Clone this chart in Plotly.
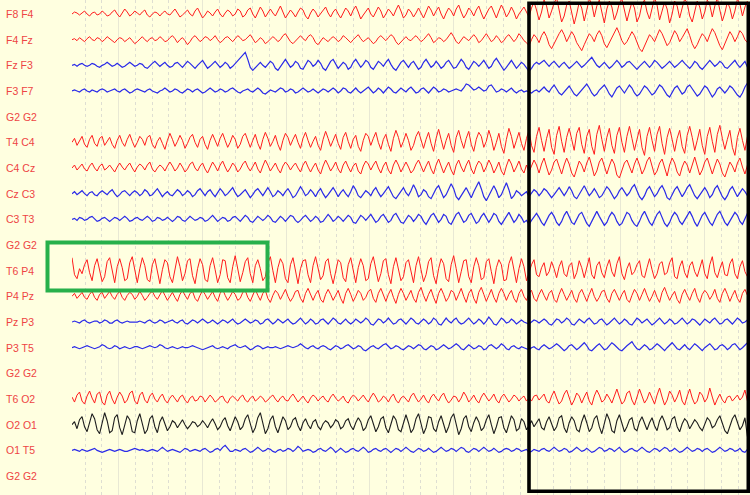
import plotly.graph_objects as go

# ---------------- data ----------------
channels = ["F8 F4", "F4 Fz", "Fz F3", "F3 F7", "G2 G2",
            "T4 C4", "C4 Cz", "Cz C3", "C3 T3", "G2 G2",
            "T6 P4", "P4 Pz", "Pz P3", "P3 T5", "G2 G2",
            "T6 O2", "O2 O1", "O1 T5", "G2 G2"]
channel_colors = ["red", "red", "blue", "blue", None,
                  "red", "red", "blue", "blue", None,
                  "red", "red", "blue", "blue", None,
                  "red", "black", "blue", None]

t_start = 0.442     # seconds
dt = 0.03           # seconds per sample

f8_f4 = [0,2,1,-1,1,3,0,-2,1,2,-1,0,3,1,-2,-1,2,4,0,-3,1,5,2,-2,0,3,1,-1,2,4,-1,-3,0,2,1,-2,1,3,0,-1,
         2,5,1,-3,-1,2,4,0,-2,3,6,1,-4,-1,3,1,-2,2,5,0,
         -3,1,4,2,-2,0,5,3,-3,-1,4,6,0,-4,2,7,3,-3,1,5,
         1,-2,3,8,2,-4,0,4,1,-3,2,6,4,-2,-5,1,5,2,-3,0,
         4,7,1,-3,2,5,0,-4,1,6,3,-2,4,8,2,-5,-1,3,6,0,
         -3,2,7,3,-4,0,5,2,-2,4,9,3,-4,-1,5,2,-3,1,6,1,
         -4,2,8,4,-2,3,7,0,-5,1,6,3,-2,5,9,2,-4,0,6,3,
         -2,4,8,1,-5,0,5,8,2,-4,3,9,4,-3,1,7,2,-5,0,4,
         7,2,
         -3,6,12,4,-6,2,14,8,-4,3,11,16,5,-8,-2,9,13,3,-10,0,
         12,6,-7,4,15,10,-3,8,14,2,-9,5,13,7,-6,1,11,15,4,-7,
         3,12,6,-8,-2,10,14,2,-5,7,16,9,-6,3,12,5,-9,0,13,8,
         -4,6,15,11,-2,-8,4,13,7,-5,2,14,9,-3,8,16,4,-7,1,12,
         6,-5,3,15,10,-2,7,13]

f4_fz = [0,1,-1,2,0,-2,1,3,0,-1,2,1,-2,0,3,1,-1,-3,0,2,
         1,-2,0,2,-1,-4,-2,1,3,0,-2,1,2,-1,0,3,1,-2,-1,2,
         4,1,-3,0,2,-1,-5,-2,2,4,1,-2,0,3,2,-1,1,4,0,-3,
         -1,2,3,0,-2,1,4,2,-1,0,3,5,1,-3,-1,2,0,-4,-2,1,
         3,1,-2,0,4,6,2,-2,-4,-1,2,4,1,-1,3,5,2,-3,-5,-1,
         2,0,-2,1,3,1,-2,0,4,2,-1,-3,0,3,5,1,-2,0,2,-1,
         -4,-2,2,4,1,-1,2,5,3,-2,-5,-2,1,3,0,-1,2,4,1,-2,
         0,3,6,2,-3,-1,2,1,-2,0,4,7,3,-2,-4,0,3,1,-1,2,
         5,2,-3,-1,3,6,2,-2,0,4,1,-3,-1,3,5,2,-2,1,6,3,
         -1,-3,
         -6,0,5,2,-3,4,8,3,-5,-9,-4,2,6,10,5,-2,3,8,4,-3,
         -7,-11,-5,1,6,3,-2,5,9,4,-4,-8,-3,2,7,12,6,-1,-5,-2,
         3,8,4,-3,-9,-12,-6,0,5,2,-2,4,10,6,-1,-6,-3,3,9,5,
         -2,2,7,11,4,-4,-9,-5,1,6,3,-2,5,11,7,0,-6,-10,-4,3,
         8,4,-2,3,9,6,0,-3]

fz_f3 = [0,1,-1,1,2,0,-1,0,2,1,-1,-2,0,1,3,1,-1,0,2,0,
         -2,-1,1,3,1,-1,0,2,1,-2,-3,0,2,4,1,-1,1,3,0,-2,
         -1,2,3,0,-2,1,4,2,-1,-3,0,3,5,1,-3,-1,2,4,1,-2,
         0,3,1,-3,-1,2,5,7,11,13,6,-2,-5,-2,1,3,0,-2,1,4,
         2,-3,-5,-1,3,6,2,-2,0,4,2,-3,-4,0,5,3,-1,1,5,2,
         -3,-5,-1,4,6,1,-3,0,3,1,-4,-2,3,6,2,-2,1,5,3,-2,
         -4,0,4,2,-1,3,6,1,-3,-5,-1,3,5,1,-2,2,4,0,-4,-2,
         3,6,2,-2,0,4,1,-3,-1,3,5,1,-3,-2,2,6,3,-2,-4,0,
         4,2,-1,2,5,1,-3,-1,4,7,3,-2,-5,-2,2,5,1,-3,0,3,
         1,-2,
         -6,-3,1,3,1,3,5,2,-1,2,4,1,-2,1,3,0,-3,-1,2,4,
         1,-2,0,3,5,8,4,0,-2,1,3,0,-3,-1,2,5,2,-2,0,3,
         4,1,-2,-4,-1,2,4,1,-2,1,5,3,0,-3,-1,2,4,1,-2,0,
         3,5,2,-1,-3,0,4,2,-2,-4,-1,3,5,2,-1,1,4,2,-2,-3,
         0,3,5,1,-2,1,4,-2]

f3_f7 = [0,1,0,-1,1,2,0,-1,1,0,-1,1,2,1,-1,0,1,2,0,-1,
         1,2,0,-2,-1,1,2,1,0,-1,1,2,0,-1,-2,0,1,3,1,-1,
         0,2,1,-1,-2,0,2,1,-1,1,2,0,-2,-1,1,3,1,-1,0,2,
         1,-1,0,2,3,1,-1,-2,0,1,2,0,-1,1,3,1,-2,-3,-1,1,
         0,-1,1,3,2,-1,0,2,1,-2,-1,1,3,1,-1,0,2,0,-2,0,
         2,1,-1,1,3,1,-2,0,3,2,-1,-2,1,3,0,-2,0,2,4,1,
         -2,0,3,1,-2,1,4,2,-1,-2,1,3,1,-1,2,4,1,-2,-1,2,
         3,0,-2,1,4,2,-1,0,2,1,-1,0,1,2,1,0,3,7,6,3,
         1,2,4,2,0,1,5,6,2,-1,0,2,1,-1,1,3,0,-2,0,1,
         -1,0,
         -1,-2,0,1,-1,2,4,1,-1,3,6,2,-2,-4,-1,3,5,1,-3,-5,
         -2,2,5,7,3,-2,-5,-3,1,4,6,2,-3,-6,-2,3,5,1,-2,2,
         6,3,-2,-5,-3,1,5,3,-1,-4,-2,2,6,4,0,-4,-6,-2,3,5,
         1,-3,-1,4,6,2,-2,-5,-3,1,5,3,-2,-6,-3,2,4,1,-2,1,
         5,3,-1,-4,-6,-2,4,8]

t4_c4 = [0,4,-3,2,6,-2,-5,3,7,-1,-4,4,6,-3,1,5,-2,-6,2,7,
         0,-4,3,8,1,-5,0,6,3,-3,5,7,-2,-6,1,5,-1,-7,2,9,
         3,-4,1,7,2,-6,-1,5,8,0,-5,3,6,-2,-7,2,8,1,-4,4,
         9,2,-5,0,7,3,-6,-2,6,9,1,-5,2,8,-1,-7,3,10,4,-4,
         1,7,-2,-8,2,9,5,-3,3,8,0,-6,4,10,2,-5,1,6,-3,-8,
         3,11,4,-4,2,8,-1,-7,5,10,1,-6,3,7,-4,-9,2,9,6,-3,
         4,10,0,-7,3,8,-2,-9,4,12,5,-5,1,9,2,-8,-3,6,11,1,
         -6,3,10,-1,-9,4,13,3,-7,2,9,-3,-10,5,12,2,-6,4,11,-2,
         -9,3,10,6,-5,1,12,4,-8,0,9,-4,-11,3,14,6,-6,2,10,-1,
         -8,4,
         12,-3,-10,6,15,2,-9,4,13,-5,-12,7,16,1,-10,5,14,3,-8,9,
         15,-2,-11,6,13,-4,-12,8,17,3,-9,5,14,-3,-11,7,15,0,-10,6,
         16,4,-8,3,13,-5,-13,6,15,2,-9,8,16,-1,-12,5,14,3,-9,4,
         12,-4,-11,7,16,5,-8,2,13,-3,-12,6,15,1,-10,8,17,4,-7,3,
         12,-5,-13,5,14,2,-8,6]

c4_cz = [0,3,-2,1,4,-1,-3,2,5,0,-3,2,4,-2,0,3,-1,-4,1,5,
         1,-2,2,5,0,-4,1,4,2,-2,3,6,-1,-4,0,3,1,-3,2,6,
         2,-3,0,5,1,-4,-1,4,6,0,-3,2,5,-1,-5,1,6,2,-3,3,
         7,1,-4,0,5,2,-4,-1,4,7,1,-3,2,6,-1,-5,2,8,3,-3,
         1,5,-1,-5,2,6,3,-2,2,5,0,-4,3,7,1,-4,1,5,-2,-6,
         2,8,3,-3,1,6,-1,-5,3,7,1,-4,2,5,-3,-6,2,7,4,-2,
         3,7,0,-5,2,6,-2,-6,3,8,3,-4,1,6,1,-5,-2,4,8,1,
         -4,2,7,-1,-6,3,9,2,-5,1,6,-2,-7,3,8,1,-4,3,8,-1,
         -6,2,7,4,-4,1,8,3,-5,0,6,-3,-7,2,9,4,-4,1,7,-1,
         -5,3,
         -4,2,8,3,-5,4,10,1,-7,-2,6,9,2,-6,3,10,4,-5,-9,0,
         7,3,-4,5,11,2,-8,-3,6,10,1,-6,2,9,4,-7,-10,-2,5,8,
         1,-5,4,10,3,-6,-1,7,11,2,-7,-3,5,9,0,-8,3,10,5,-4,
         -8,1,7,3,-5,4,11,2,-7,-2,6,10,3,-6,2,9,4,-5,-9,-1,
         6,2,-4,5,10,1,-6,3]

cz_c3 = [0,2,-1,1,3,0,-2,1,2,-1,-2,1,3,1,-1,2,4,0,-3,-1,
         2,3,0,-2,1,3,1,-2,0,4,2,-2,-1,2,5,1,-3,0,2,-1,
         -2,1,4,2,-2,0,3,1,-3,-1,3,5,1,-2,2,4,0,-3,1,5,
         2,-2,0,3,6,1,-3,-1,2,4,0,-4,-1,3,5,1,-2,2,6,2,
         -3,-1,3,1,-2,2,5,1,-4,-2,2,7,3,-2,0,4,1,-3,2,5,
         0,-4,-1,3,6,2,-3,1,4,0,-3,2,8,4,-2,-4,0,3,1,-2,
         3,6,1,-3,0,4,7,2,-3,-5,-1,3,6,1,-2,3,9,4,-3,-1,
         4,2,-3,-5,0,5,8,2,-4,-1,4,10,5,-3,-6,-2,3,6,1,-4,
         2,7,12,5,-3,-7,-2,4,8,3,-4,-1,6,11,4,-5,-2,3,1,-2,
         0,2,
         -3,0,4,2,-2,1,5,3,-1,-4,-1,3,6,2,-2,2,7,3,-3,-5,
         -1,4,8,3,-2,1,5,1,-4,-2,3,7,4,-1,-5,-2,3,6,2,-2,
         1,6,9,3,-3,-6,-2,4,7,2,-3,0,5,8,3,-4,-6,-1,4,7,
         2,-3,1,6,9,4,-2,-5,-1,3,6,2,-4,-1,5,8,3,-3,-6,-2,
         4,7,2,-3,1,5,2,-2]

c3_t3 = [0,1,-1,2,1,-1,0,2,3,0,-2,-1,1,2,0,-2,0,2,1,-1,
         1,3,1,-2,-1,1,2,0,-1,1,3,1,-2,-1,2,1,-1,0,2,0,
         -2,0,3,2,-1,-2,1,3,1,-1,0,2,1,-2,-1,2,4,1,-2,0,
         2,1,-2,-1,2,3,0,-2,1,4,2,-2,-3,0,3,1,-1,1,4,2,
         -2,-3,0,3,1,-2,1,4,3,-1,-3,-1,2,4,1,-2,0,3,1,-3,
         -2,2,5,2,-2,0,3,1,-2,1,4,2,-3,-4,0,4,2,-1,2,5,
         1,-3,-1,3,5,1,-3,-1,4,6,2,-3,-4,0,4,2,-2,1,5,3,
         -2,-5,-1,4,6,1,-3,0,5,3,-3,-5,0,5,7,2,-3,-1,4,6,
         1,-4,-2,3,6,2,-3,1,6,4,-2,-5,-1,4,7,2,-3,0,5,2,
         -3,-1,
         -5,-1,3,6,2,-3,-6,-1,4,7,3,-3,-6,-2,4,8,3,-3,-5,0,
         5,7,2,-4,-7,-2,4,8,3,-2,-6,-3,3,7,4,-2,-6,-4,2,7,
         5,-1,-5,-7,-2,4,8,3,-3,-6,-1,5,8,2,-4,-7,-3,3,7,4,
         -2,-5,-1,4,8,3,-3,-7,-2,4,7,2,-3,-6,-1,5,8,3,-3,-6,
         -2,3,7,4,-2,-5,1,6]

t6_p4 = [13,-4,-8,2,-3,6,11,-2,-10,5,12,1,-11,-6,9,13,-1,-12,4,12,
         3,-10,-8,8,14,0,-12,2,13,5,-9,-11,6,12,-2,-13,1,11,8,-6,
         -12,3,14,4,-10,-3,10,12,-5,-13,2,12,6,-9,-11,5,13,1,-12,-4,
         11,10,-7,-12,4,15,3,-11,-2,9,13,-3,-12,5,11,2,-10,-6,8,14,
         0,-12,3,12,7,-8,-12,6,13,-1,-13,2,10,11,-4,-12,5,14,4,-9,
         -5,9,12,-3,-13,1,11,8,-7,-11,6,13,0,-12,3,12,5,-10,-8,7,
         14,2,-11,-3,10,12,-4,-13,4,13,3,-10,-6,8,11,-2,-12,5,14,1,
         -11,-4,9,13,-5,-13,2,12,7,-8,-11,6,15,2,-12,-1,10,11,-6,-12,
         4,13,5,-9,-7,9,12,-1,-13,3,11,6,-10,-9,7,14,0,-12,2,12,
         4,-10,
         -2,6,11,-4,-6,3,8,-5,-1,9,2,-7,4,10,-3,-6,5,8,-8,-2,
         10,3,-7,2,13,-4,-8,5,9,-2,-7,4,11,-1,-6,7,14,-3,-9,2,
         8,-4,-1,6,10,-5,-7,3,12,1,-8,-3,7,9,-4,-2,8,13,-6,-8,
         4,10,-2,-7,5,9,-1,-6,3,11,-3,-8,6,14,-2,-7,2,9,-4,-5,
         7,12,-3,-8,4,10,-1,-6]

p4_pz = [0,3,-2,1,4,-1,-3,2,5,-1,-4,2,4,-2,1,5,0,-3,2,5,
         -1,-4,1,4,2,-3,0,5,1,-4,-1,3,5,0,-3,2,6,1,-4,0,
         4,-1,-5,2,6,1,-3,3,5,-2,-5,1,6,2,-3,1,5,-1,-5,3,
         7,1,-4,0,5,2,-4,-2,4,6,-1,-5,2,7,1,-4,3,6,-2,-6,
         1,6,3,-3,2,7,0,-5,-1,5,6,-2,-6,3,8,1,-4,2,6,-3,
         -6,2,7,2,-4,1,6,-2,-7,3,8,2,-5,0,6,3,-4,-1,5,7,
         -2,-6,3,8,1,-5,2,7,-1,-7,2,8,3,-4,1,6,-2,-6,4,9,
         1,-5,2,7,-1,-7,3,8,2,-5,-1,6,4,-4,2,8,0,-6,3,7,
         -2,-7,4,9,2,-5,1,7,-1,-6,3,8,3,-4,2,6,-2,-6,3,7,
         0,-4,
         3,6,-2,-5,2,7,1,-4,3,6,-3,-6,2,8,2,-4,1,6,-2,-6,
         3,7,1,-5,2,8,0,-5,-1,5,6,-2,-6,3,7,1,-4,2,6,-3,
         -6,1,7,3,-4,2,8,1,-5,0,6,-1,-6,4,9,2,-4,1,5,-3,
         -7,2,7,1,-4,3,8,-1,-6,2,6,3,-3,1,7,-2,-6,3,8,2,
         -5,1,6,-2,-6,3,7,1]

pz_p3 = [0,1,0,-1,1,2,0,-1,0,1,1,-1,0,2,1,-1,-1,1,2,0,
         -1,0,1,0,0,0,0,1,0,-1,1,2,0,-1,0,2,1,-1,0,1,
         2,0,-1,1,2,-1,-2,0,2,1,-1,1,3,1,-1,0,2,0,-2,0,
         2,1,-1,1,3,0,-2,-1,1,3,1,-1,0,2,1,-2,-1,2,3,0,
         -2,0,3,1,-1,1,3,0,-2,-1,2,4,1,-2,0,3,1,-2,-1,2,
         3,0,-2,1,4,2,-1,-2,1,3,0,-2,0,3,1,-1,1,4,2,-2,
         -3,0,3,2,-1,1,4,1,-2,-1,2,3,0,-2,1,4,2,-1,-2,1,
         3,1,-2,0,4,2,-2,-3,1,4,1,-1,2,4,0,-2,-1,2,4,1,
         -2,0,3,1,-2,1,5,2,-2,-3,1,4,2,-1,0,3,1,-2,0,2,
         0,-1,
         -2,0,2,1,-1,1,3,1,-2,-3,0,3,2,-1,1,4,2,-2,-3,0,
         3,1,-1,2,4,1,-2,-1,2,3,0,-3,-1,2,4,1,-2,0,3,1,
         -2,-3,1,4,2,-1,1,3,0,-3,-1,2,4,1,-2,0,3,1,-2,-1,
         2,4,1,-2,0,3,2,-1,-3,0,3,1,-1,2,4,1,-2,-1,2,3,
         0,-2,1,4,2,-1,0,2]

p3_t5 = [0,1,0,-1,0,1,2,1,0,-1,0,1,3,2,0,-1,0,2,1,-1,
         0,1,0,-1,0,1,1,0,-1,0,1,2,1,0,1,3,2,0,-1,0,
         1,0,-1,0,1,0,0,1,2,1,0,-1,-2,-1,0,1,2,0,-1,0,
         1,0,-1,1,2,3,1,0,1,2,0,-2,-1,1,2,1,-1,0,1,0,
         0,1,0,-1,0,1,2,1,0,1,2,4,2,0,-1,1,2,0,-1,1,
         2,1,-1,-2,0,2,1,-1,0,2,3,1,-1,0,2,1,-2,-3,-1,1,
         2,0,-1,1,3,4,1,-1,0,2,1,-1,-2,0,2,1,-1,1,3,2,
         -1,-2,0,2,1,-2,-1,1,3,1,-1,0,2,4,2,-1,-2,1,3,1,
         -1,0,2,1,-2,-1,2,3,1,-1,1,4,2,-1,-2,1,2,0,-1,1,
         0,-1,
         -2,0,1,-1,-2,1,3,1,-1,0,2,4,2,-1,-3,-1,2,3,0,-2,
         0,3,5,2,-2,-3,0,2,4,1,-2,-1,2,5,3,0,-2,-3,0,2,
         4,6,2,-1,-2,1,3,1,-2,-1,2,4,2,-1,-3,0,3,5,2,-1,
         -2,1,3,0,-2,1,4,2,-1,-3,0,2,4,1,-2,-1,2,3,1,-2,
         0,3,4,1,-2,0,3,5]

t6_o2 = [2,-3,4,7,-2,-5,3,8,1,-4,5,7,-3,-6,4,8,0,-5,2,7,
         3,-4,-1,6,8,-2,-5,4,7,-1,-4,3,6,0,-3,2,5,-1,-4,1,
         4,0,-3,2,4,-1,-4,1,3,-2,-1,3,2,-3,0,4,1,-3,-1,2,
         3,-2,-4,1,3,0,-2,2,4,-1,-3,1,3,-2,0,3,1,-3,-1,2,
         4,0,-3,1,3,-1,-2,2,5,1,-3,0,3,-1,-4,1,4,2,-2,1,
         3,-1,-3,2,5,1,-2,0,3,-2,-4,1,4,2,-2,1,4,0,-3,2,
         6,2,-3,-1,3,1,-3,2,5,-1,-4,1,3,0,-3,3,6,1,-3,0,
         4,-1,-4,2,5,1,-2,3,6,0,-4,-1,3,2,-3,1,7,3,-3,0,
         4,-1,-4,2,6,2,-2,1,5,-1,-4,2,5,1,-3,0,4,2,-2,1,
         3,-2,
         1,-2,3,4,-1,2,5,-2,-4,3,8,1,-5,-2,5,9,2,-6,-1,6,
         3,-4,2,7,-2,-6,3,9,4,-3,-1,5,1,-4,3,10,2,-5,-2,6,
         8,-1,-6,2,10,3,-4,0,7,1,-5,4,11,2,-6,-1,8,4,-3,2,
         9,-2,-6,3,10,1,-5,-2,7,4,-3,1,11,2,-6,0,5,-1,-4,2,
         3,-2,1,4,-1,2,9,-2]

o2_o1 = [0,3,-4,5,8,-2,-7,2,11,6,-5,-9,3,12,4,-8,-6,7,10,-3,
         -10,1,9,5,-7,-8,4,11,2,-9,-5,6,9,-2,-8,3,8,1,-6,-2,
         4,2,-3,1,5,0,-4,-1,3,2,-2,0,4,1,-3,2,6,1,-5,-2,
         4,7,-1,-6,2,8,3,-5,-2,6,10,0,-8,-3,7,12,2,-9,-4,5,
         9,-2,-8,1,8,4,-5,-2,5,7,-1,-6,2,6,0,-4,3,5,-2,-5,
         1,4,2,-3,0,5,3,-4,-2,4,6,-1,-5,2,7,3,-6,-3,5,9,
         1,-7,-2,6,8,-3,-8,2,9,5,-5,-7,3,10,2,-8,-4,6,11,1,
         -9,-3,8,7,-4,-7,3,9,0,-8,-2,7,11,-1,-10,-4,6,9,-2,-7,
         2,8,3,-6,-3,5,10,0,-9,-2,7,8,-3,-8,1,9,5,-6,-4,6,
         3,-5,
         -1,4,-2,2,6,-3,-5,3,8,1,-6,-2,7,9,-3,-8,2,8,4,-5,
         -7,3,10,2,-7,-3,6,9,-2,-9,1,11,5,-6,-8,4,10,0,-7,-2,
         5,7,-4,-6,3,8,1,-5,2,7,-1,-6,4,9,3,-5,-3,6,8,-2,
         -7,1,6,3,-4,0,5,2,-3,-6,1,7,4,-3,-1,5,9,2,-6,-9,
         -2,6,10,3,-5,-1,7,-12]

o1_t5 = [0,1,0,-1,1,0,-1,0,1,2,0,-1,-2,-1,0,1,0,-1,0,1,
         0,-1,-1,0,1,2,1,0,1,0,-1,0,1,0,-1,1,3,1,-1,0,
         1,0,-1,-2,0,2,1,-1,0,1,0,-1,1,2,0,-2,-1,1,2,0,
         3,5,2,-1,-1,1,0,-1,1,2,0,-2,-1,1,3,1,-1,0,2,1,
         -1,-2,0,1,-1,0,2,1,-1,1,4,2,-1,0,1,0,-2,-1,1,2,
         0,-1,1,3,1,-2,0,2,0,-2,-1,1,2,0,-1,1,3,1,-2,-1,
         1,2,0,-1,1,2,0,-2,0,2,1,-1,1,3,1,-1,-2,0,2,1,
         -1,0,2,0,-2,-1,1,3,1,-1,0,2,1,-1,1,3,2,-1,-2,0,
         2,1,-1,1,3,1,-1,0,2,0,-2,-1,1,2,1,-1,0,2,1,-1,
         0,1,
         -2,-1,1,0,-1,1,2,0,-1,1,3,1,-1,0,2,1,-2,-1,1,3,
         1,-1,0,2,0,-2,-1,1,3,2,-1,0,2,1,-1,1,3,0,-2,-1,
         1,2,0,-1,1,3,1,-1,-2,0,2,1,-1,1,3,2,-1,0,2,0,
         -2,-1,1,3,1,-1,0,2,1,-1,1,2,0,-2,-1,1,3,1,-1,0,
         2,1,-1,0,2,-1,-2,1]

signals = [f8_f4, f4_fz, fz_f3, f3_f7, None,
           t4_c4, c4_cz, cz_c3, c3_t3, None,
           t6_p4, p4_pz, pz_p3, p3_t5, None,
           t6_o2, o2_o1, o1_t5, None]

# ---------------- style ----------------
W, H = 750, 495
BG = "#ffffe0"
ROW_PX = 25.67                   # pixel spacing between channel rows
GAIN = 1.0 / ROW_PX              # amplitude units -> row units
COLOR = {"red": "#ff1c1c", "blue": "#2a2ae8", "black": "#1e1e1e"}
WIDTH = {"red": 1.0, "blue": 1.2, "black": 1.1}

fig = go.Figure()
for i, (name, col, sig) in enumerate(zip(channels, channel_colors, signals)):
    if sig is None:
        continue
    xs = [t_start + k * dt for k in range(len(sig))]
    ys = [i - v * GAIN for v in sig]
    fig.add_trace(go.Scatter(x=xs, y=ys, mode="lines", name=name,
                             line=dict(color=COLOR[col], width=WIDTH[col]),
                             hoverinfo="skip", showlegend=False))

annotations = []
for i, name in enumerate(channels):
    annotations.append(dict(x=4 / W, xref="paper", y=i, yref="y", text=name,
                            showarrow=False, xanchor="left", yanchor="middle",
                            font=dict(family="Arial, Liberation Sans, sans-serif",
                                      size=10.5, color="#ee4444")))

x_left_px = 72
px_per_sec = 83.7
x0 = t_start
x1 = t_start + (W - x_left_px) / px_per_sec
top_row = -14 / ROW_PX
bot_row = (H - 14) / ROW_PX

shapes = [
    # black highlight box
    dict(type="rect", xref="paper", yref="paper",
         x0=529 / W, x1=748.3 / W, y0=1 - 491.2 / H, y1=1 - 3.2 / H,
         line=dict(color="#000000", width=3.6), fillcolor="rgba(0,0,0,0)", layer="above"),
    # green highlight box
    dict(type="rect", xref="paper", yref="paper",
         x0=47.5 / W, x1=267.5 / W, y0=1 - 290.5 / H, y1=1 - 242.5 / H,
         line=dict(color="#27b04b", width=4), fillcolor="rgba(0,0,0,0)", layer="above"),
]

fig.update_layout(
    width=W, height=H,
    margin=dict(l=0, r=0, t=0, b=0),
    paper_bgcolor=BG, plot_bgcolor=BG,
    showlegend=False,
    annotations=annotations,
    shapes=shapes,
    xaxis=dict(domain=[x_left_px / W, 1], range=[x0, x1],
               showticklabels=False, ticks="", zeroline=False, showline=False,
               showgrid=True, tick0=0, dtick=1, gridcolor="#e8e8d4", gridwidth=1,
               minor=dict(dtick=0.2, tick0=0, showgrid=True, gridcolor="#dedeD2",
                          griddash="dot", gridwidth=1)),
    yaxis=dict(range=[bot_row, top_row], showticklabels=False, showgrid=False,
               zeroline=False, showline=False, ticks=""),
)

fig.write_html("out.html")
